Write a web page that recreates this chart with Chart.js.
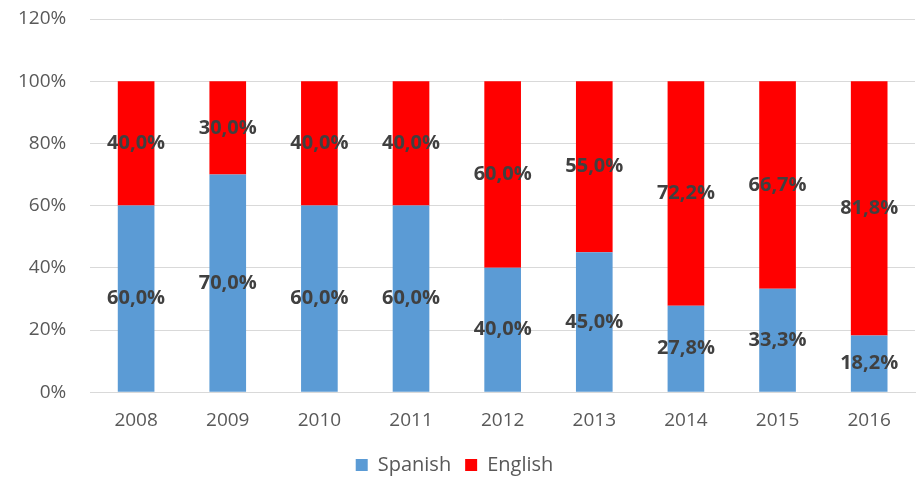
<!DOCTYPE html>
<html>
<head>
<meta charset="utf-8">
<script src="https://cdn.jsdelivr.net/npm/chart.js@4/dist/chart.umd.min.js"></script>
<style>
  body { margin: 0; background: #fff; }
</style>
</head>
<body>
<canvas id="chart" width="919" height="477"></canvas>
<script>
const years = ['2008', '2009', '2010', '2011', '2012', '2013', '2014', '2015', '2016'];
const spanish = [60.0, 70.0, 60.0, 60.0, 40.0, 45.0, 27.8, 33.3, 18.2];
const english = [40.0, 30.0, 40.0, 40.0, 60.0, 55.0, 72.2, 66.7, 81.8];
const yTicks = [0, 20, 40, 60, 80, 100, 120];

const fmt = v => v.toFixed(1).replace('.', ',') + '%';
const FONT = '"Open Sans", sans-serif';

// draws the value in the middle of each stacked segment
const segmentLabels = {
    id: 'segmentLabels',
    afterDatasetsDraw(chart) {
        const ctx = chart.ctx;
        ctx.save();
        ctx.font = 'bold 20px ' + FONT;
        ctx.fillStyle = '#404040';
        ctx.textAlign = 'center';
        ctx.textBaseline = 'middle';
        chart.data.datasets.forEach((ds, i) => {
            chart.getDatasetMeta(i).data.forEach((bar, j) => {
                const mid = (bar.y + bar.base) / 2;
                ctx.fillText(fmt(ds.data[j]), bar.x, mid);
            });
        });
        ctx.restore();
    }
};

new Chart(document.getElementById('chart'), {
    type: 'bar',
    data: {
        labels: years,
        datasets: [
            { label: 'Spanish', data: spanish, backgroundColor: '#5B9BD5' },
            { label: 'English', data: english, backgroundColor: '#FF0000' }
        ]
    },
    options: {
        responsive: false,
        animation: false,
        layout: { padding: { left: -6, right: 4, top: 19, bottom: -8 } },
        datasets: { bar: { barPercentage: 0.4, categoryPercentage: 1.0 } },
        plugins: {
            tooltip: { enabled: false },
            legend: {
                position: 'bottom',
                labels: {
                    boxWidth: 12,
                    boxHeight: 12,
                    padding: 14,
                    color: '#595959',
                    font: { family: FONT, size: 20 }
                }
            }
        },
        scales: {
            x: {
                stacked: true,
                grid: { display: false },
                border: { color: '#D9D9D9', width: 1 },
                ticks: { color: '#595959', padding: 9, font: { family: FONT, size: 19 } }
            },
            y: {
                stacked: true,
                min: 0,
                max: 120,
                afterBuildTicks: axis => { axis.ticks = yTicks.map(v => ({ value: v })); },
                afterFit: axis => { axis.paddingTop = 0; },
                grid: { color: '#D9D9D9', drawTicks: false },
                border: { display: false },
                ticks: {
                    color: '#595959',
                    padding: 24,
                    font: { family: FONT, size: 19 },
                    callback: v => v + '%'
                }
            }
        }
    },
    plugins: [segmentLabels]
});
</script>
</body>
</html>
